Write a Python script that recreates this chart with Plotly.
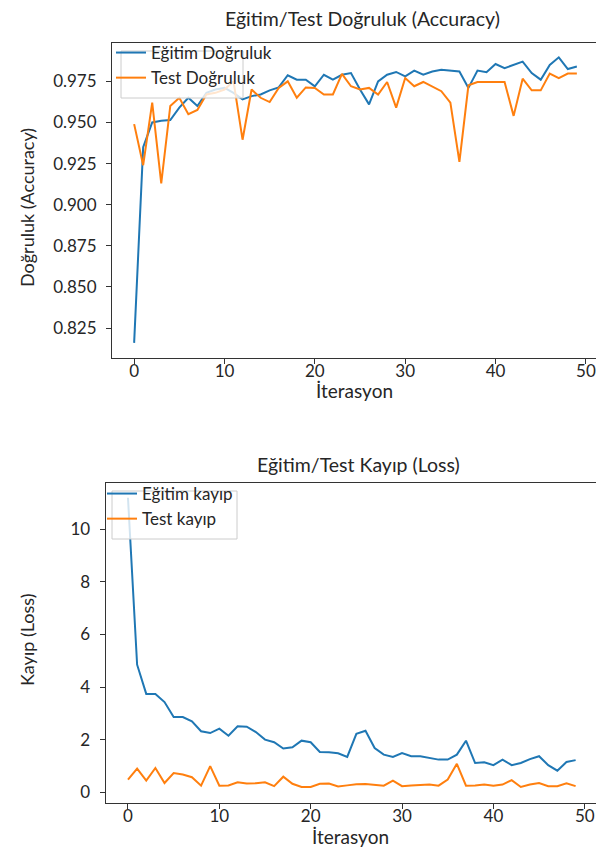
import plotly.graph_objects as go

iterations = list(range(50))

train_acc = [0.816, 0.935, 0.950, 0.951, 0.9515, 0.959, 0.965, 0.960, 0.968, 0.970,
             0.971, 0.968, 0.964, 0.966, 0.967, 0.9695, 0.9713, 0.9787, 0.976, 0.976,
             0.972, 0.979, 0.976, 0.979, 0.980, 0.970, 0.961, 0.975, 0.979, 0.9807,
             0.978, 0.9815, 0.979, 0.981, 0.982, 0.9815, 0.981, 0.971, 0.9815, 0.9805,
             0.9855, 0.983, 0.985, 0.987, 0.980, 0.976, 0.985, 0.9896, 0.9825, 0.984]
test_acc = [0.949, 0.924, 0.962, 0.913, 0.960, 0.965, 0.955, 0.9576, 0.967, 0.968,
            0.970, 0.975, 0.9395, 0.970, 0.965, 0.9624, 0.971, 0.975, 0.965, 0.9713,
            0.971, 0.967, 0.967, 0.9795, 0.972, 0.970, 0.971, 0.967, 0.9746, 0.959,
            0.977, 0.972, 0.9746, 0.972, 0.969, 0.962, 0.926, 0.9726, 0.9746, 0.9746,
            0.9746, 0.9746, 0.954, 0.9766, 0.9695, 0.9695, 0.9797, 0.977, 0.9797, 0.9797]

train_loss = [11.2, 4.85, 3.74, 3.74, 3.43, 2.86, 2.86, 2.70, 2.32, 2.25,
              2.42, 2.15, 2.51, 2.49, 2.29, 2.00, 1.90, 1.66, 1.71, 1.96,
              1.90, 1.53, 1.52, 1.48, 1.34, 2.22, 2.34, 1.68, 1.43, 1.34,
              1.49, 1.37, 1.37, 1.30, 1.24, 1.24, 1.43, 1.96, 1.11, 1.14,
              1.03, 1.24, 1.03, 1.11, 1.26, 1.37, 1.03, 0.82, 1.15, 1.22]
test_loss = [0.48, 0.90, 0.44, 0.92, 0.35, 0.73, 0.67, 0.57, 0.25, 0.99,
             0.25, 0.26, 0.38, 0.33, 0.34, 0.38, 0.23, 0.59, 0.32, 0.20,
             0.20, 0.32, 0.33, 0.22, 0.26, 0.30, 0.31, 0.29, 0.25, 0.44,
             0.23, 0.26, 0.27, 0.29, 0.25, 0.48, 1.08, 0.25, 0.26, 0.29,
             0.25, 0.29, 0.46, 0.20, 0.29, 0.35, 0.23, 0.23, 0.34, 0.23]

acc_ticks = [0.825, 0.850, 0.875, 0.900, 0.925, 0.950, 0.975]
loss_ticks = [0, 2, 4, 6, 8, 10]
iter_ticks = [0, 10, 20, 30, 40, 50]

BLUE = "#1f77b4"
ORANGE = "#ff7f0e"
FONT = "Lato"
TXT = "#262626"
W, H = 604, 848

fig = go.Figure()
fig.add_trace(go.Scatter(x=iterations, y=train_acc, mode="lines", name="Eğitim Doğruluk",
                         line=dict(color=BLUE, width=2), xaxis="x", yaxis="y", legend="legend"))
fig.add_trace(go.Scatter(x=iterations, y=test_acc, mode="lines", name="Test Doğruluk",
                         line=dict(color=ORANGE, width=2), xaxis="x", yaxis="y", legend="legend"))
fig.add_trace(go.Scatter(x=iterations, y=train_loss, mode="lines", name="Eğitim kayıp",
                         line=dict(color=BLUE, width=2), xaxis="x2", yaxis="y2", legend="legend2"))
fig.add_trace(go.Scatter(x=iterations, y=test_loss, mode="lines", name="Test kayıp",
                         line=dict(color=ORANGE, width=2), xaxis="x2", yaxis="y2", legend="legend2"))

def px_x(p):
    return p / W

def px_y(p):
    return 1 - p / H

axis_common = dict(showline=True, linecolor="#333333", linewidth=1, mirror=True,
                   ticks="outside", ticklen=5, tickcolor="#333333", showgrid=False,
                   zeroline=False, tickfont=dict(family=FONT, size=17, color=TXT))
x_extra = dict(ticklabelstandoff=-7)
y_extra = dict(ticklabelstandoff=6)

def label(text, x, y, angle=0, size=19):
    return dict(text=text, xref="paper", yref="paper", x=px_x(x), y=px_y(y),
                xanchor="center", yanchor="middle", showarrow=False, textangle=angle,
                font=dict(family=FONT, size=size, color=TXT))

legend_style = dict(xanchor="left", yanchor="top", bgcolor="rgba(0,0,0,0)",
                    borderwidth=0,
                    font=dict(family=FONT, size=17, color=TXT), tracegroupgap=0,
                    itemwidth=30)

def legend_box(x0, y0, x1, y1):
    return dict(type="rect", xref="paper", yref="paper",
                x0=px_x(x0), x1=px_x(x1), y0=px_y(y1), y1=px_y(y0),
                line=dict(color="#cccccc", width=1), fillcolor="rgba(255,255,255,0.8)",
                layer="above")

fig.update_layout(
    width=W, height=H,
    margin=dict(l=0, r=0, t=0, b=0),
    paper_bgcolor="white", plot_bgcolor="white",
    font=dict(family=FONT, color=TXT),
    xaxis=dict(domain=[px_x(104), px_x(591)], anchor="y", range=[-2.45, 51.45],
               tickvals=iter_ticks, **axis_common, **x_extra),
    yaxis=dict(domain=[px_y(350), px_y(35)], anchor="x", range=[0.8068, 0.9983],
               tickvals=acc_ticks, tickformat=".3f", **axis_common, **y_extra),
    xaxis2=dict(domain=[px_x(97.6), px_x(590)], anchor="y2", range=[-2.45, 51.45],
                tickvals=iter_ticks, **axis_common, **x_extra),
    yaxis2=dict(domain=[px_y(795), px_y(475)], anchor="x2", range=[-0.41, 11.76],
                tickvals=loss_ticks, **axis_common, **y_extra),
    legend=dict(x=px_x(103), y=px_y(27), **legend_style),
    legend2=dict(x=px_x(94), y=px_y(468), **legend_style),
    shapes=[legend_box(113, 43, 235, 90), legend_box(104, 483, 229, 531)],
    annotations=[
        label("Eğitim/Test Doğruluk (Accuracy)", 355, 10, size=19.5),
        label("Eğitim/Test Kayıp (Loss)", 350, 457, size=19.5),
        label("İterasyon", 346, 383),
        label("İterasyon", 342, 828),
        label("Doğruluk (Accuracy)", 19, 200, angle=-90, size=18),
        label("Kayıp (Loss)", 19, 632, angle=-90, size=18),
    ],
)

fig.write_html("out.html")
